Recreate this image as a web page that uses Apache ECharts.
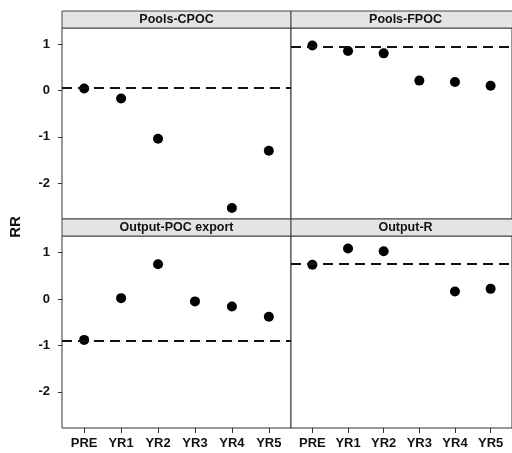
<!DOCTYPE html>
<html>
<head>
<meta charset="utf-8">
<script src="https://cdn.jsdelivr.net/npm/echarts@6/dist/echarts.min.js"></script>
<style>
  html, body { margin: 0; padding: 0; background: #fff; }
  #chart { width: 512px; height: 453px; }
</style>
</head>
<body>
<div id="chart"></div>
<script>
// data
var periods = ['PRE', 'YR1', 'YR2', 'YR3', 'YR4', 'YR5'];
var panelNames = ['Pools-CPOC', 'Pools-FPOC', 'Output-POC export', 'Output-R'];
var cpoc = [0.05, -0.17, -1.04, null, -2.54, -1.30];
var fpoc = [0.98, 0.86, 0.81, 0.22, 0.19, 0.11];
var pocExport = [-0.88, 0.02, 0.75, -0.05, -0.16, -0.38];
var outputR = [0.74, 1.09, 1.03, null, 0.165, 0.22];
var refLines = [0.065, 0.965, -0.90, 0.76];
var yTicks = [-2, -1, 0, 1];

var panelValues = [cpoc, fpoc, pocExport, outputR];

// panel boxes (plot area) and strip boxes
var panels = [
  { left: 62, top: 28, width: 229, height: 191 },
  { left: 291, top: 28, width: 229, height: 191 },
  { left: 62, top: 236, width: 229, height: 192 },
  { left: 291, top: 236, width: 229, height: 192 }
];
var stripH = 17;
var font = '"Liberation Sans", Arial, Helvetica, sans-serif';

var chart = echarts.init(document.getElementById('chart'), null, { renderer: 'canvas' });

var grids = [], xAxes = [], yAxes = [], series = [], graphics = [];

panels.forEach(function (p, i) {
  var isLeft = i % 2 === 0;
  var isBottom = i >= 2;
  grids.push({
    left: p.left, top: p.top, width: p.width, height: p.height,
    show: true, borderColor: '#333', borderWidth: 1, backgroundColor: '#fff'
  });
  xAxes.push({
    type: 'value', gridIndex: i, min: -0.6, max: 5.6, position: 'bottom',
    axisLine: { show: false, onZero: false },
    splitLine: { show: false },
    axisTick: {
      show: isBottom, length: 5, lineStyle: { color: '#333' },
      customValues: [0, 1, 2, 3, 4, 5]
    },
    axisLabel: {
      show: isBottom, margin: 9, fontSize: 13, fontWeight: 'bold',
      color: '#111', fontFamily: font,
      customValues: [0, 1, 2, 3, 4, 5],
      formatter: function (v) { return periods[Math.round(v)]; }
    }
  });
  yAxes.push({
    type: 'value', gridIndex: i, min: -2.78, max: 1.36, position: 'left',
    axisLine: { show: false, onZero: false },
    splitLine: { show: false },
    axisTick: {
      show: isLeft, length: 4, lineStyle: { color: '#333' },
      customValues: yTicks
    },
    axisLabel: {
      show: isLeft, margin: 12, fontSize: 13, fontWeight: 'bold',
      color: '#111', fontFamily: font,
      customValues: yTicks
    }
  });

  var pts = [];
  panelValues[i].forEach(function (v, k) {
    if (v !== null) pts.push([k, v]);
  });
  series.push({
    type: 'scatter', xAxisIndex: i, yAxisIndex: i,
    data: pts, symbolSize: 10,
    itemStyle: { color: '#000', opacity: 1 },
    silent: true,
    markLine: {
      silent: true, symbol: 'none', animation: false,
      label: { show: false },
      lineStyle: { color: '#111', width: 2, type: [10, 6] },
      data: [{ yAxis: refLines[i] }]
    }
  });

  // strip header above each panel
  graphics.push({
    type: 'rect',
    shape: { x: p.left, y: p.top - stripH, width: p.width, height: stripH },
    style: { fill: '#e4e4e4', stroke: '#444', lineWidth: 1 }
  });
  graphics.push({
    type: 'text',
    x: p.left + p.width / 2, y: p.top - stripH / 2,
    style: {
      text: panelNames[i], fill: '#111', font: 'bold 12.5px ' + font,
      textAlign: 'center', textVerticalAlign: 'middle'
    }
  });
});

// y-axis title
graphics.push({
  type: 'text', x: 16, y: 227, rotation: Math.PI / 2,
  style: {
    text: 'RR', fill: '#111', font: 'bold 15px ' + font,
    textAlign: 'center', textVerticalAlign: 'middle'
  }
});

chart.setOption({
  animation: false,
  backgroundColor: '#fff',
  grid: grids,
  xAxis: xAxes,
  yAxis: yAxes,
  series: series,
  graphic: graphics
});
</script>
</body>
</html>
